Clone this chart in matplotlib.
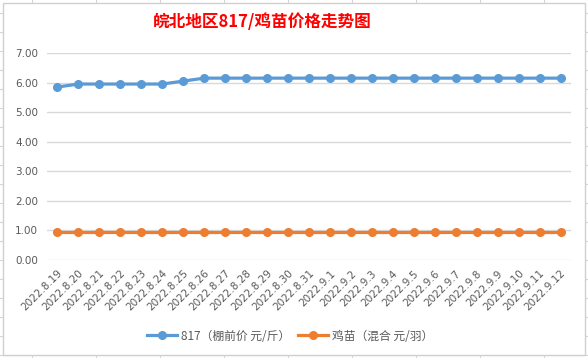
import matplotlib.pyplot as plt
from matplotlib.lines import Line2D
from matplotlib.patches import Rectangle

plt.rcParams['font.family'] = ['Noto Sans CJK SC', 'DejaVu Sans']

# Data
dates = ['2022.8.19', '2022.8.20', '2022.8.21', '2022.8.22', '2022.8.23',
         '2022.8.24', '2022.8.25', '2022.8.26', '2022.8.27', '2022.8.28',
         '2022.8.29', '2022.8.30', '2022.8.31', '2022.9.1', '2022.9.2',
         '2022.9.3', '2022.9.4', '2022.9.5', '2022.9.6', '2022.9.7',
         '2022.9.8', '2022.9.9', '2022.9.10', '2022.9.11', '2022.9.12']
price_817 = [5.85, 5.95, 5.95, 5.95, 5.95, 5.95, 6.05, 6.15, 6.15, 6.15,
             6.15, 6.15, 6.15, 6.15, 6.15, 6.15, 6.15, 6.15, 6.15, 6.15,
             6.15, 6.15, 6.15, 6.15, 6.15]
price_chick = [0.95] * 25

W, H = 588, 358
fig = plt.figure(figsize=(W / 100, H / 100), dpi=100)

# spreadsheet grid behind the chart
for x in range(32, W, 64):
    fig.add_artist(Line2D([x / W, x / W], [0, 1], color='#d4d4d4', lw=0.8, zorder=-3))
for y in range(13, H, 19):
    fig.add_artist(Line2D([0, 1], [1 - y / H, 1 - y / H], color='#d4d4d4', lw=0.8, zorder=-3))
fig.add_artist(Rectangle((3 / W, 1 - 355 / H), 582 / W, 352 / H,
                         facecolor='white', edgecolor='#d0d0d0', lw=1.0, zorder=-2))

ax = fig.add_axes([47 / W, 1 - 260 / H, 524 / W, 207 / H])
ax.set_facecolor('none')
x = range(len(dates))
ax.plot(x, price_817, color='#5B9BD5', lw=2.3, marker='o', ms=5.5,
        label='817（棚前价 元/斤）', zorder=3)
ax.plot(x, price_chick, color='#ED7D31', lw=2.3, marker='o', ms=5.5,
        label='鸡苗（混合 元/羽）', zorder=3)

ax.set_xlim(-0.5, len(dates) - 0.5)
ax.set_ylim(0, 7)
ax.set_yticks([i for i in range(8)])
ax.set_yticklabels([f'{i:.2f}' for i in range(8)], fontsize=7.5, color='#595959',
                   family='DejaVu Sans')
ax.set_xticks(list(x))
ax.set_xticklabels(dates, rotation=45, ha='right', va='top', rotation_mode='anchor',
                   fontsize=7.5, color='#595959', family='DejaVu Sans')
ax.tick_params(axis='x', length=0, pad=6)
ax.tick_params(axis='y', length=0, pad=6.5)
ax.grid(axis='y', color='#d9d9d9', lw=1)
ax.set_axisbelow(True)
for s in ax.spines.values():
    s.set_visible(False)

fig.text(262 / W, 1 - 22 / H, '皖北地区817/鸡苗价格走势图', ha='center', va='center',
         fontsize=12, fontweight='bold', color='#FF0000')

fig.legend(loc='center', bbox_to_anchor=(290 / W, 1 - 336 / H), ncol=2, frameon=False,
           fontsize=8.5, handlelength=2.5, handletextpad=0.35, columnspacing=0.7,
           labelcolor='#595959')

fig.savefig('out.png', dpi=100)
